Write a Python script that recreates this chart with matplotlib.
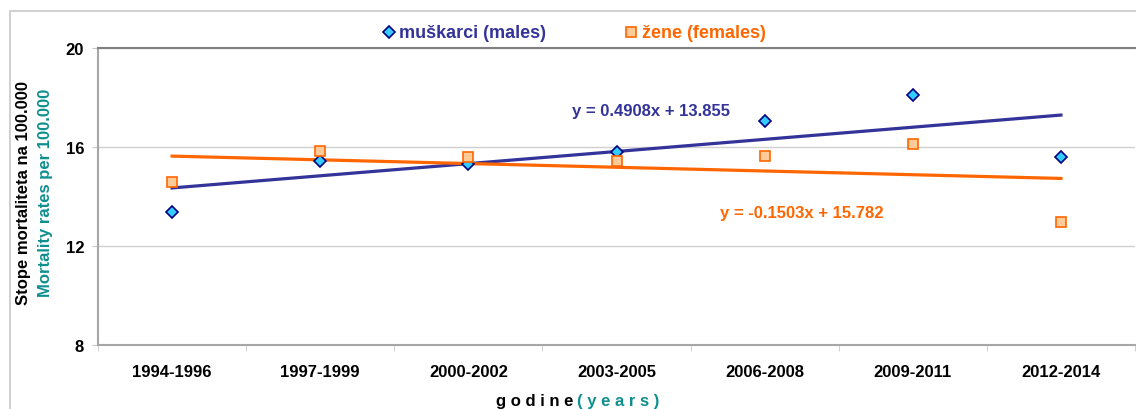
import numpy as np
import matplotlib.pyplot as plt
from matplotlib.patches import Rectangle
from matplotlib.lines import Line2D

periods = ['1994-1996', '1997-1999', '2000-2002', '2003-2005',
           '2006-2008', '2009-2011', '2012-2014']
males = [13.37, 15.43, 15.33, 15.80, 17.06, 18.10, 15.61]
females = [14.60, 15.85, 15.61, 15.44, 15.64, 16.13, 12.96]

# trendline coefficients as printed on the chart
male_fit = (0.4908, 13.855)
female_fit = (-0.1503, 15.782)

yticks = [8, 12, 16, 20]

plt.rcParams['font.family'] = ['Liberation Sans', 'DejaVu Sans']
plt.rcParams['font.weight'] = 'bold'

W, H = 1136, 410
fig = plt.figure(figsize=(W / 100, H / 100), dpi=100)
fig.patches.append(Rectangle((10 / W, -0.1), 1.2, (H - 12) / H + 0.1,
                             transform=fig.transFigure, fill=False,
                             edgecolor='#c8c8c8', linewidth=1.2))

ax = fig.add_axes([98 / W, (H - 346) / H, 1037 / W, 297 / H])

male_style = dict(marker='D', ms=6.3, mfc='#33ccff', mec='#000080', mew=1.2)
female_style = dict(marker='s', ms=7.5, mfc='#ffcc99', mec='#ff6600', mew=1.2)

x = np.arange(1, len(periods) + 1)
ax.plot(x, np.polyval(male_fit, x), color='#333399', lw=2.3, zorder=3)
ax.plot(x, np.polyval(female_fit, x), color='#ff6600', lw=2.3, zorder=3)
ax.plot(x, males, ls='none', zorder=4, **male_style)
ax.plot(x, females, ls='none', zorder=4, **female_style)

ax.set_xlim(0.5, len(periods) + 0.5)
ax.set_ylim(8, 20)
ax.set_yticks(yticks)
ax.set_yticklabels([str(v) for v in yticks], fontsize=12)
ax.set_xticks(x)
ax.set_xticklabels(periods, fontsize=12)
ax.set_xticks(np.arange(0.5, len(periods) + 1), minor=True)
ax.tick_params(axis='x', which='major', length=0, pad=14)
ax.tick_params(axis='x', which='minor', length=4, color='#c8c8c8')
ax.tick_params(axis='y', length=4, color='#c8c8c8', pad=6)
ax.grid(axis='y', color='#d0d0d0', lw=1)
ax.set_axisbelow(True)

for s in ['left', 'bottom']:
    ax.spines[s].set_color('#a6a6a6')
    ax.spines[s].set_linewidth(1.5)
ax.spines['top'].set_color('#808080')
ax.spines['top'].set_linewidth(1.5)
ax.spines['right'].set_visible(False)

ax.text(3.70, 17.49, 'y = 0.4908x + 13.855', color='#333399', fontsize=12,
        ha='left', va='center')
ax.text(4.70, 13.37, 'y = -0.1503x + 15.782', color='#ff6600', fontsize=12,
        ha='left', va='center')

# legend above the plot
ly = 1 - 33 / H
fig.add_artist(Line2D([389 / W], [ly], transform=fig.transFigure,
                      ls='none', **male_style))
fig.text(399 / W, ly, 'muškarci (males)', color='#333399',
         fontsize=13, ha='left', va='center')
fig.add_artist(Line2D([631 / W], [ly], transform=fig.transFigure,
                      ls='none', **female_style))
fig.text(642 / W, ly, 'žene (females)', color='#ff6600',
         fontsize=13, ha='left', va='center')

# y axis title in two colours
fig.text(24 / W, 1 - 193 / H, 'Stope mortaliteta na 100.000', rotation=90,
         fontsize=12, ha='center', va='center', color='black')
fig.text(46 / W, 1 - 193 / H, 'Mortality rates per 100.000', rotation=90,
         fontsize=12, ha='center', va='center', color='#0f8f8f')

# x axis title, letter spaced
fig.text(573 / W, 1 - 402 / H, 'g o d i n e', fontsize=12, ha='right',
         va='center', color='black')
fig.text(577 / W, 1 - 402 / H, '( y e a r s )', fontsize=12, ha='left',
         va='center', color='#0f8f8f')

fig.savefig('out.png', dpi=100)
